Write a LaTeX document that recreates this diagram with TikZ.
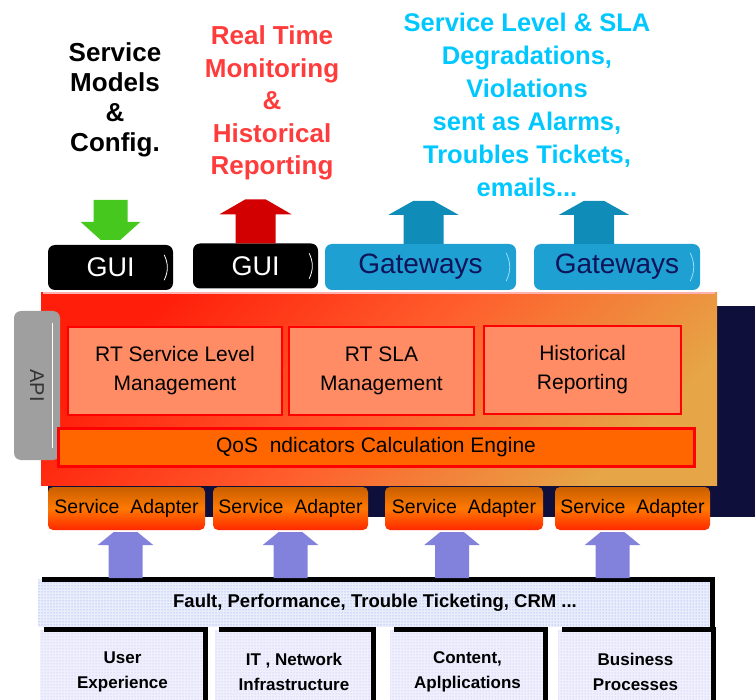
\documentclass[tikz,border=0pt]{standalone}
\usepackage{fontspec}
\setmainfont{Liberation Sans}
\usetikzlibrary{patterns}

\definecolor{titlered}{RGB}{255,60,60}
\definecolor{titlecyan}{RGB}{0,200,255}
\definecolor{arrgreen}{RGB}{70,200,30}
\definecolor{arrred}{RGB}{210,0,0}
\definecolor{arrteal}{RGB}{16,140,185}
\definecolor{arrlav}{RGB}{130,130,220}
\definecolor{gwfill}{RGB}{30,160,210}
\definecolor{gwtext}{RGB}{15,20,90}
\definecolor{panelred}{RGB}{255,30,10}
\definecolor{panelmid}{RGB}{255,95,45}
\definecolor{panelgold}{RGB}{230,165,70}
\definecolor{boxfill}{RGB}{255,140,100}
\definecolor{qosfill}{RGB}{255,102,0}
\definecolor{adtop}{RGB}{200,95,0}
\definecolor{adbottom}{RGB}{255,40,0}
\definecolor{shadownavy}{RGB}{15,15,60}
\definecolor{feedfill}{RGB}{232,238,250}
\definecolor{srcfill}{RGB}{240,240,252}

\tikzset{
  title/.style={align=center, font=\bfseries\fontsize{26}{30}\selectfont},
  guibox/.style={fill=black, rounded corners=7pt, minimum width=125, minimum height=45,
    inner sep=0pt, text=white, font=\fontsize{27}{30}\selectfont},
  gwbox/.style={fill=gwfill, rounded corners=7pt, minimum width=#1, minimum height=46,
    inner sep=0pt, text=gwtext, font=\fontsize{28}{30}\selectfont},
  platform/.style={minimum width=676, minimum height=192, inner sep=0pt,
    top color=panelred, bottom color=panelgold, middle color=panelmid, shading angle=45},
  apibox/.style={fill=gray!75, rounded corners=7pt, minimum width=149, minimum height=46,
    inner sep=0pt, rotate=-90, text=black!80, font=\fontsize{20}{22}\selectfont},
  mbox/.style={draw=red, line width=2pt, fill=boxfill, minimum width=#1, minimum height=88,
    inner sep=0pt, align=center, font=\fontsize{21}{29}\selectfont},
  qosbar/.style={draw=red, line width=3pt, fill=qosfill, minimum width=636, minimum height=38,
    inner sep=0pt, font=\fontsize{21}{24}\selectfont},
  adapter/.style={minimum width=#1, minimum height=43, rounded corners=5pt, inner sep=0pt,
    top color=adtop, bottom color=adbottom, middle color=orange!95!red,
    font=\fontsize{19.5}{20}\selectfont},
  feedbar/.style={minimum width=674, minimum height=47, inner sep=0pt,
    preaction={fill=feedfill}, pattern=dots, pattern color=blue!45,
    font=\bfseries\fontsize{18.5}{20}\selectfont},
  srcbox/.style={minimum width=#1, minimum height=84, inner sep=0pt,
    preaction={fill=srcfill}, pattern=dots, pattern color=blue!30,
    align=center, font=\bfseries\fontsize{17}{25}\selectfont},
  edge3d/.style={line width=5pt, line join=miter}
}

\begin{document}
\begin{tikzpicture}[x=1pt,y=-1pt]
\useasboundingbox (0,0) rectangle (755,700);

\node[title] (models) at (115,100) {Service\\Models\\\&\\Config.};
\node[title, text=titlered, font=\bfseries\fontsize{26}{32.5}\selectfont] (monitor) at (272,103)
  {Real Time\\Monitoring\\\&\\Historical\\Reporting};
\node[title, text=titlecyan, font=\bfseries\fontsize{25.5}{33}\selectfont] (alarms) at (527,104.5)
  {Service Level \& SLA\\Degradations,\\Violations\\sent as Alarms,\\Troubles Tickets,\\emails...};

\node[guibox] (gui1) at (110.5,267.5) {GUI};
\node[guibox] (gui2) at (255.5,266) {GUI};
\node[gwbox=191] (gw1) at (420.5,267) {Gateways};
\node[gwbox=166] (gw2) at (617,267) {Gateways};
\foreach \b in {gui1,gui2}
  \draw[white, thick] ([shift={(-9,10)}]\b.north east) to[bend left=25] ([shift={(-9,-10)}]\b.south east);
\foreach \b in {gw1,gw2}
  \draw[cyan!40!white, thick] ([shift={(-10,9)}]\b.north east) to[bend left=25] ([shift={(-10,-9)}]\b.south east);

\fill[arrgreen, shift={(gui1.north)}] (-17,-45) -- (17,-45) -- (17,-23) -- (30,-23) -- (10,-5)
  -- (-10,-5) -- (-30,-23) -- (-17,-23) -- cycle;
\fill[arrred, shift={(gui2.north)}] (-20,0) -- (-20,-29) -- (-36,-29) -- (-10,-44) -- (10,-44)
  -- (36,-29) -- (20,-29) -- (20,0) -- cycle;
\foreach \b/\dx in {gw1/3,gw2/-23}
  \fill[arrteal, shift={([xshift=\dx]\b.north)}] (-20,0) -- (-20,-29) -- (-35,-29) -- (-10,-43)
    -- (10,-43) -- (35,-29) -- (20,-29) -- (20,0) -- cycle;

\fill[shadownavy] (48,306) rectangle (755,517);
\node[platform] (platform) at (379,389) {};
\draw[white!70!red, line width=2pt] ([xshift=2]platform.north west) -- ([xshift=-2]platform.north east);
\node[apibox] (api) at (37,385.5) {API};
\draw[white, thick] ([shift={(15,-62)}]api.center) -- ([shift={(15,62)}]api.center);

\node[mbox=214] (rtslm) at (175,371) {RT Service Level\\Management};
\node[mbox=185] (rtsla) at (381.5,371) {RT SLA\\Management};
\node[mbox=197] (histrep) at (582.5,370) {Historical\\Reporting};
\node[qosbar] (qos) at (376,447) {QoS\ \ ndicators Calculation Engine};

\node[adapter=157] (adapt1) at (126.5,508.5) {Service\ \ Adapter};
\node[adapter=155] (adapt2) at (290.5,508.5) {Service\ \ Adapter};
\node[adapter=158] (adapt3) at (464,508.5) {Service\ \ Adapter};
\node[adapter=155] (adapt4) at (632.5,508.5) {Service\ \ Adapter};

\node[feedbar] (feeds) at (375,603) {Fault, Performance, Trouble Ticketing, CRM ...};
\draw[edge3d] ([xshift=4]feeds.north west) -- (feeds.north east) -- (feeds.south east);

\foreach \i/\dx in {1/-1,2/0,3/-12,4/-20}
  \fill[arrlav, shift={([xshift=\dx]adapt\i.south)}] (-17,48) -- (-17,15) -- (-28,15) -- (-12,2)
    -- (12,2) -- (28,15) -- (17,15) -- (17,48) -- cycle;

\node[srcbox=165] (src1) at (122.5,672) {User\\Experience};
\node[srcbox=158] (src2) at (294,672) {IT , Network\\Infrastructure};
\node[srcbox=155] (src3) at (467.5,672) {Content,\\Aplplications};
\node[srcbox=155] (src4) at (635.5,672) {Business\\Processes};
\foreach \i in {1,...,4}
  \draw[edge3d] ([xshift=4]src\i.north west) -- (src\i.north east) -- (src\i.south east);

\end{tikzpicture}
\end{document}
